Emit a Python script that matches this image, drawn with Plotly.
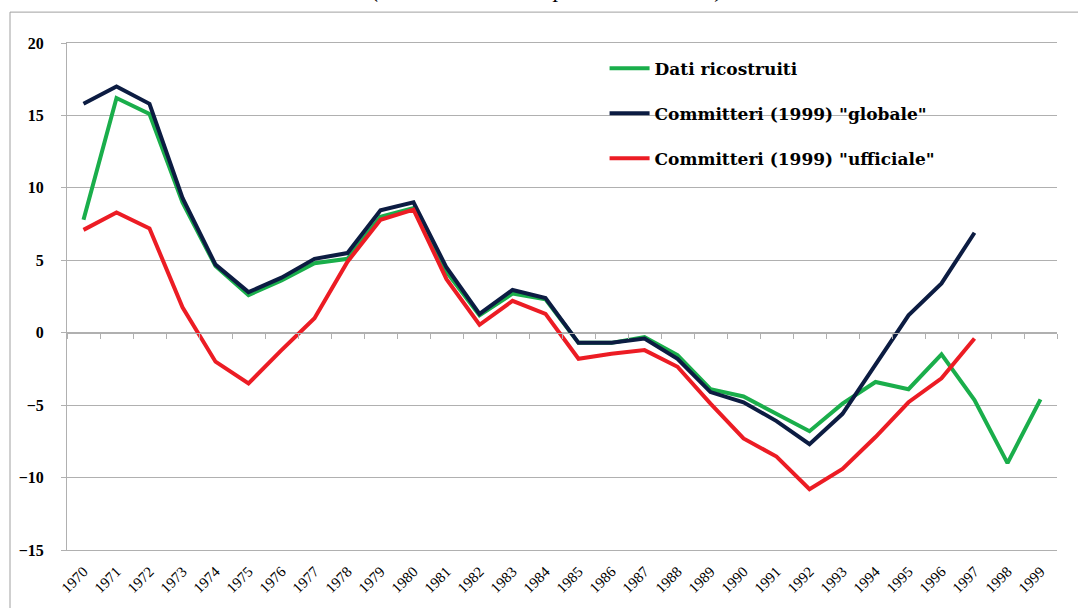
import plotly.graph_objects as go

years = [str(y) for y in range(1970, 2000)]

dati_ricostruiti = [7.8, 16.2, 15.1, 9.0, 4.6, 2.6, 3.6, 4.8, 5.1, 8.0, 8.6, 4.2, 1.2, 2.7, 2.3,
                    -0.7, -0.7, -0.3, -1.55, -3.9, -4.4, -5.6, -6.8, -4.9, -3.4, -3.9, -1.5, -4.65, -9.0, -4.6]
committeri_globale = [15.8, 17.0, 15.8, 9.3, 4.7, 2.8, 3.8, 5.1, 5.5, 8.45, 9.0, 4.5, 1.3, 2.95, 2.4,
                      -0.7, -0.7, -0.4, -1.8, -4.1, -4.8, -6.1, -7.7, -5.6, -2.2, 1.2, 3.4, 6.9, None, None]
committeri_ufficiale = [7.1, 8.3, 7.2, 1.75, -2.0, -3.5, -1.2, 1.0, 4.9, 7.8, 8.5, 3.7, 0.55, 2.2, 1.3,
                        -1.8, -1.45, -1.2, -2.35, -4.9, -7.3, -8.55, -10.8, -9.4, -7.2, -4.8, -3.15, -0.4, None, None]

names = ["Dati ricostruiti", 'Committeri (1999) "globale"', 'Committeri (1999) "ufficiale"']
colors = ["#1aae4b", "#0c1c42", "#ec1c24"]
title_text = "(tassi di variazione percentuali annui)"

GRID = "#b0b0b0"
SERIF = "Liberation Serif, DejaVu Serif, serif"

fig = go.Figure()
for i, (name, vals, col) in enumerate(zip(names, [dati_ricostruiti, committeri_globale, committeri_ufficiale], colors)):
    fig.add_trace(go.Scatter(x=years, y=vals, mode="lines", name=name,
                             line=dict(color=col, width=4), legendgroup=str(i),
                             hoverinfo="x+y+name"))

# invisible helper trace for the category axis crossing at zero
fig.add_trace(go.Scatter(x=years, y=dati_ricostruiti, xaxis="x2", mode="lines",
                         line=dict(width=0, color="rgba(0,0,0,0)"), showlegend=False,
                         hoverinfo="skip"))

fig.update_layout(
    width=1078, height=608,
    margin=dict(l=67, r=21, t=43, b=56),
    paper_bgcolor="white", plot_bgcolor="white",
    font=dict(family=SERIF, color="black"),
    showlegend=True,
    legend=dict(x=0.543, y=0.985, xanchor="left", yanchor="top",
                bgcolor="rgba(0,0,0,0)", borderwidth=0,
                font=dict(family="DejaVu Serif, serif", size=17, color="black", weight="bold"),
                tracegroupgap=20, itemwidth=40),
    xaxis=dict(type="category", categoryorder="array", categoryarray=years,
               range=[-0.5, 29.5], showgrid=False, ticks="", tickangle=-45,
               tickfont=dict(family=SERIF, size=15, color="black"),
               showline=True, linecolor=GRID, linewidth=1, mirror=True,
               ticklabelstandoff=6, zeroline=False),
    xaxis2=dict(type="category", categoryorder="array", categoryarray=years,
                overlaying="x", anchor="free", position=15 / 35,
                range=[-0.5, 29.5], tickson="boundaries", ticks="outside", ticklen=5,
                tickcolor=GRID, showticklabels=False, showline=True, linecolor=GRID,
                showgrid=False, zeroline=False),
    yaxis=dict(range=[-15, 20], dtick=5, tick0=0, showgrid=True, gridcolor=GRID, gridwidth=1,
               showline=True, linecolor=GRID, ticks="outside", ticklen=5, tickcolor=GRID,
               tickfont=dict(family=SERIF, size=16, color="black", weight="bold"),
               ticklabelstandoff=14, zeroline=False),
    shapes=[
        # white box behind legend (hides gridline as in reference)
        dict(type="rect", xref="paper", yref="paper", x0=(545 - 67) / 990, x1=(1003 - 67) / 990,
             y0=(552 - 182) / 509, y1=(552 - 50) / 509, fillcolor="white", line=dict(width=0),
             layer="between"),
        # outer chart frame
        dict(type="rect", xref="paper", yref="paper", x0=(10 - 67) / 990, x1=1.1,
             y0=-0.2, y1=(552 - 12) / 509, line=dict(color="#a0a0a0", width=1),
             fillcolor="rgba(0,0,0,0)", layer="below"),
    ],
    annotations=[
        dict(text=title_text, xref="paper", yref="paper", x=(548 - 67) / 990, y=(552 - 4) / 509,
             xanchor="center", yanchor="bottom", showarrow=False,
             font=dict(family=SERIF, size=23, style="italic", color="black")),
    ],
)

fig.write_html("out.html", config={"displayModeBar": False},
               post_script="document.body.style.margin='0px';")
